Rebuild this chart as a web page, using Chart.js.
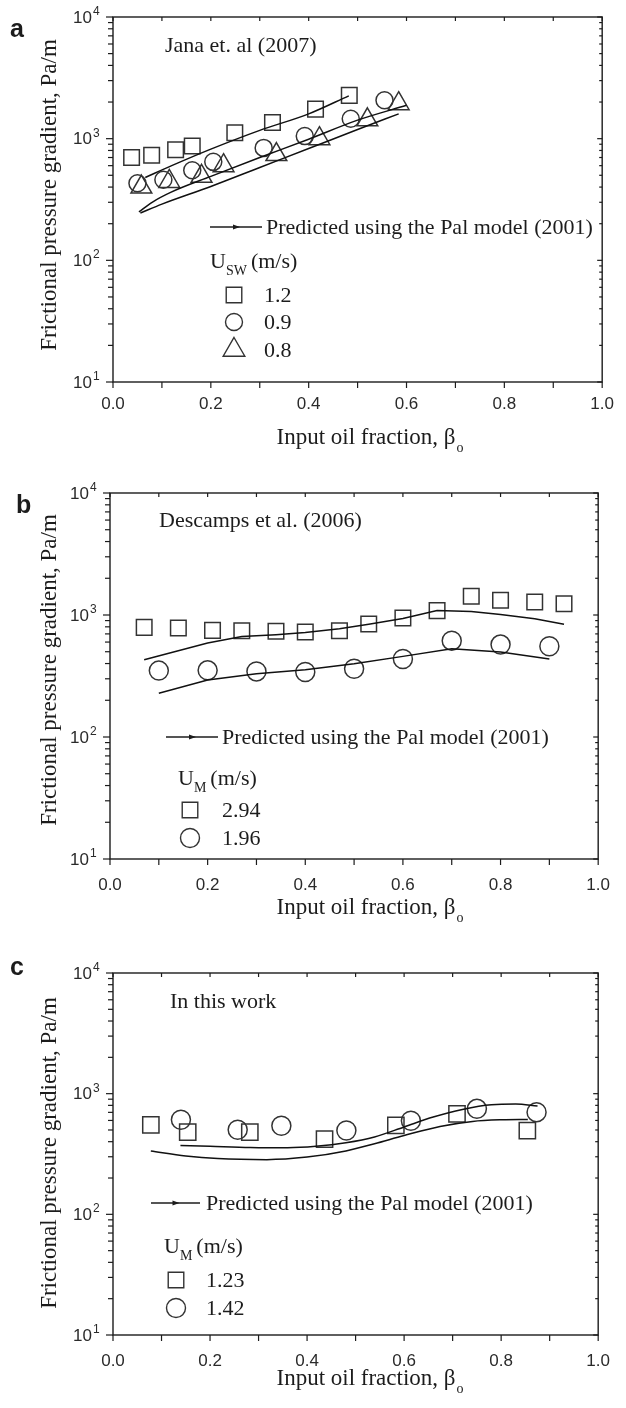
<!DOCTYPE html>
<html>
<head>
<meta charset="utf-8">
<script src="https://cdn.jsdelivr.net/npm/chart.js@4/dist/chart.umd.min.js"></script>
<style>
  body { margin: 0; background: #fff; }
  .panel { position: absolute; left: 0; width: 626px; }
</style>
</head>
<body>
<div class="panel" style="top:0;height:470px"><canvas id="chartA" width="626" height="470"></canvas></div>
<div class="panel" style="top:470px;height:470px"><canvas id="chartB" width="626" height="470"></canvas></div>
<div class="panel" style="top:940px;height:468px"><canvas id="chartC" width="626" height="468"></canvas></div>
<script>
// ---- data: (a) Jana et al. (2007)
const janaSqX = [0.038, 0.079, 0.128, 0.162, 0.249, 0.326, 0.414, 0.483];
const janaSqY = [700, 730, 810, 870, 1120, 1360, 1750, 2270];
const janaCircX = [0.050, 0.103, 0.162, 0.205, 0.308, 0.392, 0.486, 0.555];
const janaCircY = [430, 460, 550, 645, 840, 1050, 1460, 2070];
const janaTriX = [0.058, 0.115, 0.181, 0.226, 0.334, 0.422, 0.520, 0.584];
const janaTriY = [400, 445, 490, 600, 740, 1000, 1430, 1940];
const janaPredSqX = [0.066, 0.12, 0.2, 0.3, 0.4, 0.482];
const janaPredSqY = [480, 600, 820, 1170, 1600, 2250];
const janaPredCircX = [0.053, 0.08, 0.12, 0.2, 0.3, 0.4, 0.5, 0.6];
const janaPredCircY = [250, 300, 365, 490, 700, 990, 1420, 1880];
const janaPredTriX = [0.056, 0.1, 0.2, 0.3, 0.4, 0.5, 0.584];
const janaPredTriY = [245, 290, 405, 580, 830, 1190, 1600];
const janaUsw = ['1.2', '0.9', '0.8'];

// ---- data: (b) Descamps et al. (2006)
const descSqX = [0.07, 0.14, 0.21, 0.27, 0.34, 0.40, 0.47, 0.53, 0.60, 0.67, 0.74, 0.80, 0.87, 0.93];
const descSqY = [792, 782, 748, 744, 735, 726, 744, 844, 944, 1086, 1422, 1319, 1278, 1238];
const descCircX = [0.10, 0.20, 0.30, 0.40, 0.50, 0.60, 0.70, 0.80, 0.90];
const descCircY = [350, 352, 345, 341, 363, 436, 616, 572, 554];
const descPredSqX = [0.07, 0.2, 0.27, 0.34, 0.4, 0.47, 0.53, 0.6, 0.67, 0.74, 0.8, 0.87, 0.93];
const descPredSqY = [430, 590, 665, 690, 720, 770, 840, 935, 1090, 1070, 1010, 930, 840];
const descPredCircX = [0.1, 0.2, 0.3, 0.4, 0.5, 0.6, 0.7, 0.8, 0.9];
const descPredCircY = [228, 293, 330, 356, 399, 458, 530, 498, 436];
const descUm = ['2.94', '1.96'];

// ---- data: (c) this work
const workSqX = [0.078, 0.154, 0.282, 0.436, 0.583, 0.709, 0.854];
const workSqY = [552, 480, 480, 420, 545, 681, 495];
const workCircX = [0.140, 0.257, 0.347, 0.481, 0.614, 0.750, 0.873];
const workCircY = [608, 502, 542, 495, 596, 749, 703];
const workPredCircX = [0.139, 0.2, 0.283, 0.36, 0.418, 0.48, 0.539, 0.6, 0.66, 0.72, 0.78, 0.83, 0.875];
const workPredCircY = [372, 366, 358, 356, 366, 392, 438, 530, 640, 740, 810, 820, 790];
const workPredSqX = [0.078, 0.15, 0.216, 0.317, 0.4, 0.48, 0.539, 0.6, 0.674, 0.741, 0.802, 0.855];
const workPredSqY = [335, 305, 290, 284, 298, 335, 385, 450, 535, 589, 608, 612];
const workUm = ['1.23', '1.42'];

const xTickLabels = ['0.0', '0.2', '0.4', '0.6', '0.8', '1.0'];
const yDecades = [1, 2, 3, 4];

const SERIF = '"Liberation Serif", "Times New Roman", serif';
const SANS = '"Liberation Sans", Arial, sans-serif';
const INK = '#1c1c1c';
const MARK = '#333333';

const pts = (xs, ys) => xs.map((v, i) => ({ x: v, y: ys[i] }));

function markerSet(xs, ys, style, r) {
  return {
    data: pts(xs, ys), showLine: false, pointStyle: style, pointRadius: r,
    pointBorderWidth: 1.5, pointBorderColor: MARK, pointBackgroundColor: 'rgba(0,0,0,0)'
  };
}
function lineSet(xs, ys, smooth) {
  return {
    data: pts(xs, ys), showLine: true, pointRadius: 0, borderColor: '#111', borderWidth: 1.5,
    tension: smooth ? 0.4 : 0, cubicInterpolationMode: smooth ? 'monotone' : 'default'
  };
}

const decor = {
  id: 'decor',
  afterDraw(chart, args, o) {
    const { ctx, chartArea: a, scales: { x, y } } = chart;
    ctx.save();
    ctx.strokeStyle = INK;
    ctx.fillStyle = INK;
    ctx.lineWidth = 1.4;
    ctx.strokeRect(a.left, a.top, a.right - a.left, a.bottom - a.top);
    const seg = (x1, y1, x2, y2) => { ctx.beginPath(); ctx.moveTo(x1, y1); ctx.lineTo(x2, y2); ctx.stroke(); };
    ctx.lineWidth = 1.2;
    for (let i = 0; i <= 10; i++) {
      const px = x.getPixelForValue(i / 10);
      seg(px, a.bottom, px, a.bottom + 6);
      seg(px, a.top, px, a.top + 4);
    }
    for (let e = 1; e <= 4; e++) {
      for (let m = 1; m < 10; m++) {
        if (e === 4 && m > 1) break;
        const py = y.getPixelForValue(m * Math.pow(10, e));
        const len = m === 1 ? 7 : 5;
        seg(a.left - len, py, a.left, py);
        seg(a.right - len + 2, py, a.right, py);
      }
    }
    // y tick labels 10^n
    ctx.fillStyle = '#2a2a2a';
    yDecades.forEach(e => {
      const py = y.getPixelForValue(Math.pow(10, e));
      ctx.font = '17px ' + SANS;
      ctx.textAlign = 'right';
      ctx.textBaseline = 'middle';
      ctx.fillText('10', a.left - 21, py + 1);
      ctx.font = '12px ' + SANS;
      ctx.textAlign = 'left';
      ctx.textBaseline = 'alphabetic';
      ctx.fillText(String(e), a.left - 20, py - 2);
    });
    ctx.fillStyle = INK;
    // panel letter
    ctx.font = 'bold 25px ' + SANS;
    ctx.textAlign = 'left';
    ctx.fillText(o.letter, o.letterX, o.letterY);
    // y title
    ctx.save();
    ctx.translate(o.yTitleX, o.yTitleY);
    ctx.rotate(-Math.PI / 2);
    ctx.font = '23px ' + SERIF;
    ctx.textAlign = 'center';
    ctx.textBaseline = 'middle';
    ctx.fillText('Frictional pressure gradient, Pa/m', 0, 0);
    ctx.restore();
    // x title with subscript
    ctx.font = '23px ' + SERIF;
    const main = 'Input oil fraction, β';
    const mw = ctx.measureText(main).width;
    ctx.font = '14px ' + SERIF;
    const sw = ctx.measureText('o').width;
    const sx = o.xTitleX - (mw + sw + 1) / 2;
    ctx.font = '23px ' + SERIF;
    ctx.textAlign = 'left';
    ctx.fillText(main, sx, o.xTitleY);
    ctx.font = '14px ' + SERIF;
    ctx.fillText('o', sx + mw + 1, o.xTitleY + 8);
    // note
    ctx.font = '22px ' + SERIF;
    ctx.fillText(o.note, o.noteX, o.noteY);
    // legend
    const L = o.legend;
    ctx.lineWidth = 1.4;
    seg(L.lineX1, L.lineY, L.lineX2, L.lineY);
    const mx = (L.lineX1 + L.lineX2) / 2;
    ctx.beginPath();
    ctx.moveTo(mx + 4, L.lineY); ctx.lineTo(mx - 3, L.lineY - 2.5); ctx.lineTo(mx - 3, L.lineY + 2.5);
    ctx.closePath(); ctx.fill();
    ctx.font = '22px ' + SERIF;
    ctx.fillText('Predicted using the Pal model (2001)', L.textX, L.textY);
    ctx.fillText('U', L.headX, L.headY);
    const uw = ctx.measureText('U').width;
    ctx.font = '14px ' + SERIF;
    ctx.fillText(L.sub, L.headX + uw, L.headY + 7);
    const subw = ctx.measureText(L.sub).width;
    ctx.font = '22px ' + SERIF;
    ctx.fillText('(m/s)', L.headX + uw + subw + 4, L.headY);
    L.rows.forEach((r, i) => {
      ctx.fillStyle = 'rgba(0,0,0,0)';
      ctx.strokeStyle = MARK;
      Chart.helpers.drawPoint(ctx, { pointStyle: r.style, radius: r.r, borderWidth: 1.5, rotation: 0 }, L.markX, r.y);
      ctx.fillStyle = INK;
      ctx.fillText(L.labels[i], L.labelX, r.y + 7);
    });
    ctx.restore();
  }
};

function makeChart(id, datasets, box, deco) {
  return new Chart(document.getElementById(id), {
    type: 'scatter',
    data: { datasets },
    plugins: [decor],
    options: {
      responsive: false,
      animation: false,
      layout: { padding: { left: 0, right: box.right, top: box.top, bottom: 0 } },
      scales: {
        x: {
          type: 'linear', min: 0, max: 1,
          grid: { display: false, drawTicks: false }, border: { display: false },
          ticks: {
            stepSize: 0.2, autoSkip: false, maxRotation: 0, padding: box.tickPad,
            color: '#2a2a2a', font: { family: SANS, size: 17 },
            callback: v => xTickLabels[Math.round(v * 5)]
          },
          afterFit: s => { s.height = box.xHeight; }
        },
        y: {
          type: 'logarithmic', min: 10, max: 10000,
          grid: { display: false, drawTicks: false }, border: { display: false },
          ticks: { display: false },
          afterFit: s => { s.width = box.left; }
        }
      },
      plugins: { legend: { display: false }, tooltip: { enabled: false }, decor: deco }
    }
  });
}

makeChart('chartA', [
  lineSet(janaPredSqX, janaPredSqY, true),
  lineSet(janaPredCircX, janaPredCircY, true),
  lineSet(janaPredTriX, janaPredTriY, true),
  markerSet(janaSqX, janaSqY, 'rect', 11),
  markerSet(janaCircX, janaCircY, 'circle', 8.5),
  markerSet(janaTriX, janaTriY, 'triangle', 12)
], { left: 113, right: 17, top: 17, xHeight: 88, tickPad: 12 }, {
  letter: 'a', letterX: 10, letterY: 37,
  note: 'Jana et. al (2007)', noteX: 165, noteY: 52,
  yTitleX: 50, yTitleY: 195, xTitleX: 370, xTitleY: 444,
  legend: {
    lineX1: 210, lineX2: 262, lineY: 227, textX: 266, textY: 234,
    headX: 210, headY: 268, sub: 'SW', markX: 234, labelX: 264, labels: janaUsw,
    rows: [{ style: 'rect', r: 11, y: 295 }, { style: 'circle', r: 8.5, y: 322 }, { style: 'triangle', r: 12.5, y: 350 }]
  }
});

makeChart('chartB', [
  lineSet(descPredSqX, descPredSqY, false),
  lineSet(descPredCircX, descPredCircY, false),
  markerSet(descSqX, descSqY, 'rect', 11),
  markerSet(descCircX, descCircY, 'circle', 9.5)
], { left: 110, right: 15, top: 23, xHeight: 81, tickPad: 16 }, {
  letter: 'b', letterX: 16, letterY: 43,
  note: 'Descamps et al. (2006)', noteX: 159, noteY: 57,
  yTitleX: 50, yTitleY: 200, xTitleX: 370, xTitleY: 444,
  legend: {
    lineX1: 166, lineX2: 218, lineY: 267, textX: 222, textY: 274,
    headX: 178, headY: 315, sub: 'M', markX: 190, labelX: 222, labels: descUm,
    rows: [{ style: 'rect', r: 11, y: 340 }, { style: 'circle', r: 9.5, y: 368 }]
  }
});

makeChart('chartC', [
  lineSet(workPredCircX, workPredCircY, true),
  lineSet(workPredSqX, workPredSqY, true),
  markerSet(workSqX, workSqY, 'rect', 11.5),
  markerSet(workCircX, workCircY, 'circle', 9.5)
], { left: 113, right: 18, top: 33, xHeight: 73, tickPad: 16 }, {
  letter: 'c', letterX: 10, letterY: 35,
  note: 'In this work', noteX: 170, noteY: 68,
  yTitleX: 50, yTitleY: 213, xTitleX: 370, xTitleY: 445,
  legend: {
    lineX1: 151, lineX2: 200, lineY: 263, textX: 206, textY: 270,
    headX: 164, headY: 313, sub: 'M', markX: 176, labelX: 206, labels: workUm,
    rows: [{ style: 'rect', r: 11, y: 340 }, { style: 'circle', r: 9.5, y: 368 }]
  }
});
</script>
</body>
</html>
